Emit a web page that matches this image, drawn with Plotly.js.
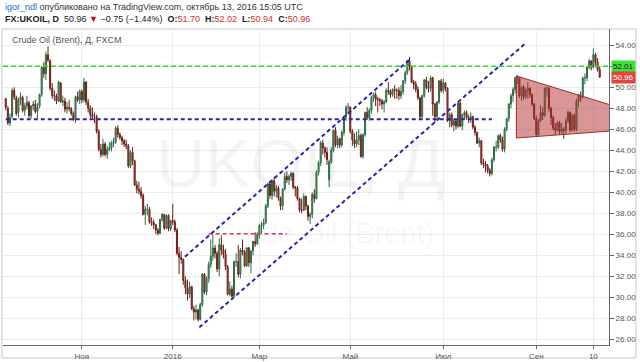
<!DOCTYPE html>
<html>
<head>
<meta charset="utf-8">
<script src="https://cdn.plot.ly/plotly-3.0.1.min.js"></script>
<style>
html,body{margin:0;padding:0;background:#fff;}
#chart{width:640px;height:362px;}
</style>
</head>
<body>
<div id="chart"></div>
<script>
// Trading calendar (weekdays, market holidays removed)
const firstDay = '2015-09-11';
const lastDay = '2016-10-13';
const holidays = ['2015-12-25', '2016-01-01', '2016-03-25'];

// Daily OHLC, FX:UKOIL (month by month)
const open = [
  48.9,48.0,46.6,47.2,49.7,49.0,47.6,48.8,49.0,47.8,48.2,48.5,47.3,48.2,
  48.4,47.7,48.2,49.3,51.9,51.3,53.1,52.5,49.9,49.2,49.2,48.7,50.4,48.6,48.7,47.9,48.1,48.0,47.5,46.9,49.1,48.8,
  49.6,48.8,50.5,48.6,48.0,47.4,47.2,47.2,45.8,44.1,43.6,44.6,43.6,44.1,44.2,44.7,44.8,46.1,45.5,45.2,44.9,
  44.6,44.4,42.5,43.8,43.0,40.7,40.3,40.1,39.7,37.9,38.4,38.4,37.2,37.1,36.9,36.4,36.1,37.4,37.9,36.6,37.8,36.5,
  37.3,37.2,36.4,34.2,33.8,33.6,31.6,30.9,30.3,31.0,28.9,28.6,28.8,27.9,29.3,32.2,30.5,31.8,33.1,33.9,
  34.7,34.2,32.7,35.0,34.5,34.1,32.9,30.3,30.8,30.1,33.4,33.4,32.2,34.5,34.3,33.0,34.7,33.3,34.4,35.3,35.1,
  36.0,36.8,36.9,37.1,38.7,40.8,39.7,41.1,40.1,40.4,39.5,38.7,40.3,41.5,41.2,41.5,41.8,40.5,40.4,39.4,38.3,38.3,
  39.6,38.7,37.7,37.9,39.8,39.4,41.9,42.8,44.7,44.2,43.8,41.2,42.9,44.0,45.9,44.5,45.1,44.5,45.7,47.2,48.1,
  48.1,45.8,45.0,44.6,45.0,45.4,43.4,45.5,47.6,47.1,47.8,49.0,49.3,48.9,48.8,48.7,48.4,48.6,49.7,49.6,49.3,49.8,
  49.7,49.7,49.2,49.6,50.6,51.4,52.5,52.0,50.5,50.3,49.8,49.0,47.2,49.2,50.7,50.0,49.9,50.9,48.4,47.2,48.6,50.6,
  49.7,50.4,49.9,46.8,47.4,46.4,46.8,46.3,48.5,46.3,47.4,47.6,47.1,47.1,47.2,46.2,45.7,44.7,44.9,42.8,42.7,
  42.5,42.1,41.8,43.1,44.3,44.3,45.4,45.0,44.1,46.0,47.0,48.4,49.2,49.8,50.9,50.9,49.2,50.0,49.1,49.7,49.9,49.3,48.4,
  47.0,45.5,46.8,47.6,47.3,49.9,49.9,48.0,47.1,46.1,45.9,46.6,45.8,46.0,45.9,46.8,47.6,45.9,47.3,46.0,48.7,49.2,
  49.1,50.9,50.9,51.9,52.5,51.9,53.1,52.4,51.70
];
const high = [
  49.0,48.2,47.5,49.9,50.0,49.2,49.0,49.5,49.2,48.5,49.2,48.7,48.3,48.7,
  48.8,48.5,49.4,52.0,52.4,53.4,53.9,52.7,50.4,49.7,49.4,50.6,50.5,49.2,49.0,48.6,48.8,48.1,47.7,49.2,49.6,49.8,
  49.8,50.9,50.6,48.9,48.3,48.1,47.6,47.4,46.0,44.6,45.1,44.8,44.4,44.8,44.9,45.2,46.3,46.4,45.7,45.4,45.1,
  45.0,44.6,44.0,44.3,43.1,41.1,41.0,40.5,39.9,38.7,38.9,38.6,37.6,37.4,37.0,36.6,37.5,38.0,37.9,37.9,37.9,37.4,
  38.9,37.4,36.6,34.8,34.4,33.7,32.0,31.7,31.5,31.1,29.2,29.3,28.9,29.5,32.3,32.3,32.0,33.4,35.5,36.0,
  35.0,34.4,35.6,35.9,35.0,34.6,33.1,31.5,31.1,33.5,34.2,35.0,34.7,35.5,34.5,34.8,34.8,34.5,35.4,36.2,36.2,
  37.0,37.2,37.5,38.9,40.9,41.0,41.2,41.5,40.7,40.6,39.6,40.4,41.9,42.0,41.7,42.0,41.9,40.6,40.6,39.5,39.4,39.9,
  39.7,38.8,38.1,40.0,40.3,42.1,43.0,44.9,45.0,44.4,44.3,43.1,44.3,46.0,46.2,45.4,45.2,45.9,47.3,48.3,48.5,
  48.2,46.0,45.6,45.8,46.0,45.6,45.6,47.7,48.1,48.0,49.2,49.5,49.6,49.1,49.0,48.9,48.8,49.9,50.5,49.8,49.9,50.2,
  49.9,50.0,50.2,50.7,51.6,52.6,52.9,52.1,50.7,50.6,50.1,49.1,49.3,50.8,51.0,50.6,51.1,51.0,48.5,48.7,50.7,50.8,
  50.8,50.5,50.0,47.6,47.6,47.0,47.0,48.6,48.6,47.5,47.8,47.8,47.4,47.6,47.3,46.4,45.8,45.2,45.0,43.2,43.0,
  42.7,42.3,43.3,44.4,44.9,45.5,45.6,45.3,46.2,47.1,48.5,49.4,50.0,51.0,51.2,50.9,50.1,50.2,49.9,50.5,50.0,49.4,48.5,
  47.3,47.0,48.3,48.1,50.0,50.1,50.0,48.1,47.3,46.6,46.8,46.8,46.6,46.2,47.1,47.8,47.7,47.5,47.5,48.9,49.4,49.6,
  51.0,51.3,52.0,52.7,52.6,53.7,53.3,52.8,52.02
];
const low = [
  47.8,46.4,46.3,47.0,48.8,47.3,47.1,48.3,47.6,47.3,47.9,47.1,47.0,47.8,
  47.5,47.0,48.0,49.1,50.9,50.7,52.4,49.7,48.9,48.7,48.4,48.6,48.5,48.2,47.6,47.5,47.7,47.3,46.8,46.6,48.6,48.4,
  48.5,48.6,48.3,47.6,47.0,47.0,46.6,45.6,43.9,43.3,43.4,43.4,43.2,43.9,43.9,44.3,44.6,45.2,45.0,44.5,44.3,
  44.1,42.3,42.3,42.6,40.6,39.9,39.8,39.4,37.8,36.9,37.8,37.0,36.8,36.5,36.0,35.9,36.0,37.2,36.4,36.5,36.3,36.3,
  36.9,36.2,34.0,32.2,33.2,31.2,30.3,29.7,29.9,28.8,27.8,27.9,27.7,27.8,29.1,30.3,30.2,31.4,32.8,33.5,
  33.7,32.4,32.0,34.0,33.7,32.6,30.2,30.1,30.0,30.0,32.9,31.9,31.8,34.0,32.9,32.9,32.9,32.3,34.0,34.8,35.0,
  35.6,36.1,36.5,37.0,38.5,39.4,39.3,39.6,39.5,39.2,38.3,38.3,40.2,40.9,40.7,41.1,40.3,39.6,39.2,38.1,38.0,38.2,
  38.3,37.3,37.0,37.5,39.0,39.3,41.6,42.5,43.6,43.3,42.6,40.5,42.7,43.8,44.3,44.2,44.2,44.3,45.4,46.8,47.4,
  45.6,44.4,44.2,44.3,44.5,43.3,43.2,45.3,46.9,46.8,47.5,48.6,48.2,47.6,48.2,47.9,47.6,48.5,49.3,49.0,49.1,48.9,
  48.9,48.8,48.9,49.3,50.3,51.2,51.6,50.4,49.8,49.5,48.8,46.9,47.0,49.0,49.8,49.5,49.6,47.3,46.6,47.0,48.4,49.5,
  49.4,49.6,46.7,46.2,46.2,45.8,46.0,46.1,46.2,45.9,46.9,46.9,46.6,46.6,46.0,45.4,44.6,44.3,42.6,42.3,41.9,
  41.8,41.5,41.6,42.9,43.9,44.1,44.7,43.9,43.8,45.8,46.7,48.0,48.6,49.4,50.3,49.0,48.7,48.8,48.9,48.9,49.0,48.2,46.9,
  45.3,45.4,46.7,46.9,47.2,49.1,47.7,46.4,45.9,45.5,45.8,45.5,45.5,45.1,45.6,46.6,45.8,45.8,45.8,45.8,48.1,48.6,
  48.9,50.3,50.6,51.7,51.6,51.8,51.9,51.5,50.94
];
const close = [
  48.1,46.6,47.1,49.7,49.1,47.5,48.8,49.1,47.8,48.2,48.6,47.3,48.2,48.4,
  47.7,48.1,49.3,51.9,51.3,53.1,52.6,49.9,49.2,49.2,48.7,50.5,48.6,48.7,47.9,48.1,48.0,47.5,46.9,49.1,48.8,49.6,
  48.8,50.5,48.6,48.0,47.4,47.2,47.2,45.8,44.1,43.6,44.6,43.6,44.1,44.2,44.7,44.8,46.1,45.5,45.2,44.9,44.6,
  44.4,42.5,43.8,43.0,40.7,40.3,40.1,39.7,37.9,38.4,38.4,37.2,37.1,36.9,36.4,36.1,37.4,37.9,36.6,37.8,36.5,37.3,
  37.2,36.4,34.2,33.8,33.6,31.6,30.9,30.3,31.0,28.9,28.6,28.8,27.9,29.3,32.2,30.5,31.8,33.1,33.9,34.7,
  34.2,32.7,35.0,34.5,34.1,32.9,30.3,30.8,30.1,33.4,33.4,32.2,34.5,34.3,33.0,34.7,33.3,34.4,35.3,35.1,36.0,
  36.8,36.9,37.1,38.7,40.8,39.7,41.1,40.1,40.4,39.5,38.7,40.3,41.5,41.2,41.5,41.8,40.5,40.4,39.4,38.3,38.3,39.6,
  38.7,37.7,37.9,39.8,39.4,41.9,42.8,44.7,44.2,43.8,43.1,42.9,44.0,45.9,44.5,45.1,44.5,45.7,47.2,48.1,48.1,
  45.8,45.0,44.6,45.0,45.4,43.4,45.5,47.6,47.1,47.8,49.0,49.3,48.9,48.8,48.7,48.4,48.6,49.7,49.6,49.3,49.8,49.7,
  49.7,49.2,49.6,50.6,51.4,52.5,52.0,50.5,50.3,49.8,49.0,47.2,49.2,50.7,50.0,49.9,50.9,48.4,47.2,48.6,50.6,49.7,
  50.4,49.9,46.8,47.4,46.4,46.8,46.3,48.5,46.3,47.4,47.6,47.1,47.1,47.2,46.2,45.7,44.7,44.9,42.8,42.7,42.5,
  42.1,41.8,43.1,44.3,44.3,45.4,45.0,44.1,46.0,47.0,48.4,49.2,49.8,50.9,50.9,49.2,50.0,49.1,49.7,49.9,49.3,48.4,47.0,
  45.5,46.8,47.6,47.3,49.9,49.9,48.0,47.1,46.1,45.9,46.6,45.8,46.0,45.9,46.8,47.6,45.9,47.3,46.0,48.7,49.2,49.1,
  50.9,50.9,51.9,52.5,51.9,53.1,52.4,51.7,50.96
];

// Axis ticks
const xTickDates = ['2015-11-02','2016-01-04','2016-03-01','2016-05-02','2016-07-01','2016-09-01','2016-10-10'];
const xTickLabels = ['Ноя','2016','Мар','Май','Июл','Сен','10'];
const yTicks = [26,28,30,32,34,36,38,40,42,44,46,48,50,52,54];
const yHiddenLabel = 52; // covered by the 52.01 level label

// Chart drawings (date, price)
const greenLevel = 52.01;
const blueLevel = {price: 46.95, end: '2016-08-03'};
const redLevel = {price: 36.06, start: '2016-01-27', end: '2016-03-18'};
const channelLower = [['2016-01-20T14:00', 27.14], ['2016-08-24T12:00', 54.12]];
const channelUpper = [['2016-01-11T19:00', 33.87], ['2016-06-09T05:00', 52.67]];
const triangle = [['2016-08-18T14:00', 51.08], ['2016-08-18T14:00', 45.17], ['2016-11-21T10:00', 46.32]];
const lastPrice = 50.96;

// build date list
function tradingDays(a, b, skip) {
  const out = [];
  const d = new Date(a + 'T00:00:00Z');
  const e = new Date(b + 'T00:00:00Z');
  while (d <= e) {
    const s = d.toISOString().slice(0, 10);
    const wd = d.getUTCDay();
    if (wd !== 0 && wd !== 6 && skip.indexOf(s) < 0) out.push(s);
    d.setUTCDate(d.getUTCDate() + 1);
  }
  return out;
}
const dates = tradingDays(firstDay, lastDay, holidays);
if (dates.length !== close.length) console.error('length mismatch', dates.length, close.length);

const F = '"Liberation Sans", Arial, sans-serif';
const blue = '#2626a8';

const trace = {
  type: 'candlestick',
  x: dates, open: open, high: high, low: low, close: close,
  increasing: {line: {color: '#2f6b45', width: 1}, fillcolor: '#56a678'},
  decreasing: {line: {color: '#6b1f17', width: 1}, fillcolor: '#cf4b3c'},
  whiskerwidth: 0,
  hoverinfo: 'none',
  showlegend: false
};

const triangleTrace = {
  type: 'scatter', mode: 'lines',
  x: triangle.map(p => p[0]).concat([triangle[0][0]]),
  y: triangle.map(p => p[1]).concat([triangle[0][1]]),
  fill: 'toself', fillcolor: 'rgba(180,45,45,0.5)',
  line: {color: '#9e2b2b', width: 1},
  hoverinfo: 'none', showlegend: false
};

const shapes = [
  {type:'line', xref:'paper', x0:0, x1:1, yref:'y', y0:greenLevel, y1:greenLevel,
   line:{color:'#25dd25', width:1.5, dash:'5px,3px'}},
  {type:'line', xref:'x', x0:dates[0], x1:blueLevel.end, yref:'y', y0:blueLevel.price, y1:blueLevel.price,
   line:{color:blue, width:2, dash:'4px,3px'}},
  {type:'line', xref:'x', x0:redLevel.start, x1:redLevel.end, yref:'y', y0:redLevel.price, y1:redLevel.price,
   line:{color:'#d94040', width:1.5, dash:'4px,3px'}},
  {type:'line', xref:'x', yref:'y', x0:channelLower[0][0], y0:channelLower[0][1], x1:channelLower[1][0], y1:channelLower[1][1],
   line:{color:blue, width:2, dash:'4px,3px'}},
  {type:'line', xref:'x', yref:'y', x0:channelUpper[0][0], y0:channelUpper[0][1], x1:channelUpper[1][0], y1:channelUpper[1][1],
   line:{color:blue, width:2, dash:'4px,3px'}},
  // outer frame
  {type:'rect', xref:'paper', yref:'paper', x0:-0.0017, x1:1.0445, y0:-0.041, y1:1.0,
   line:{color:'#c8c8c8', width:1}, fillcolor:'rgba(0,0,0,0)', layer:'below'}
];

const sp = '\u00a0';
const red = '#c8342a';
const annotations = [
  {xref:'paper', yref:'paper', x:0, y:1.069, xanchor:'left', yanchor:'middle', showarrow:false,
   text:'<span style="color:#2a6fc9">igor_ndl</span> опубликовано на TradingView.com, октябрь 13, 2016 15:05 UTC',
   font:{family:F, size:9, color:'#333'}},
  {xref:'paper', yref:'paper', x:0, y:1.031, xanchor:'left', yanchor:'middle', showarrow:false,
   text:'<b>FX:UKOIL, D</b>' + sp + ' 50.96 <span style="color:#d0021b">▼</span> −0.75 (−1.44%)' + sp +
        ' <b>O:</b><span style="color:' + red + '">51.70</span>' + sp + ' <b>H:</b><span style="color:' + red + '">52.02</span>' + sp +
        ' <b>L:</b><span style="color:' + red + '">50.94</span>' + sp + ' <b>C:</b><span style="color:' + red + '">50.96</span>',
   font:{family:F, size:9, color:'#222'}},
  {xref:'paper', yref:'paper', x:0.0115, y:0.965, xanchor:'left', yanchor:'middle', showarrow:false,
   text:'Crude Oil (Brent), Д, FXCM', font:{family:F, size:9, color:'#555'}},
  // watermark
  {xref:'paper', yref:'paper', x:0.49, y:0.575, xanchor:'center', yanchor:'middle', showarrow:false,
   text:'UKOIL, Д', font:{family:F, size:68, color:'rgba(0,0,0,0.045)'}},
  {xref:'paper', yref:'paper', x:0.53, y:0.355, xanchor:'center', yanchor:'middle', showarrow:false,
   text:'Crude Oil (Brent)', font:{family:F, size:29, color:'rgba(0,0,0,0.045)'}},
  // price labels
  {xref:'paper', yref:'y', x:1.003, y:greenLevel, xanchor:'left', yanchor:'middle', showarrow:false,
   text:'52.01', bgcolor:'#3ee03e', borderpad:1, font:{family:F, size:8, color:'#1a1a1a'}},
  {xref:'paper', yref:'y', x:1.003, y:lastPrice, xanchor:'left', yanchor:'middle', showarrow:false,
   text:'50.96', bgcolor:'#e0463c', borderpad:1, font:{family:F, size:8, color:'#fff'}}
];

const layout = {
  width: 640, height: 362,
  margin: {l:3, r:31, t:29, b:17, pad:0},
  paper_bgcolor: '#fff', plot_bgcolor: '#fff',
  showlegend: false,
  dragmode: false,
  xaxis: {
    type: 'date',
    range: ['2015-09-09 16:48', '2016-10-19 09:36'],
    rangebreaks: [{bounds:['sat','mon']}, {values: holidays}],
    rangeslider: {visible: false},
    tickmode: 'array', tickvals: xTickDates, ticktext: xTickLabels,
    ticks: 'outside', ticklen: 3, tickcolor: '#666',
    showgrid: true, gridcolor: '#ececec', gridwidth: 1,
    showline: true, linecolor: '#666', linewidth: 1,
    zeroline: false,
    tickfont: {family:F, size:8, color:'#555'}
  },
  yaxis: {
    side: 'right',
    range: [25.46, 55.55],
    tickmode: 'array', tickvals: yTicks,
    ticktext: yTicks.map(v => v === yHiddenLabel ? '' : v.toFixed(2)),
    ticks: 'outside', ticklen: 4, tickcolor: '#666',
    showgrid: true, gridcolor: '#ececec', gridwidth: 1,
    showline: true, linecolor: '#666', linewidth: 1,
    zeroline: false,
    tickfont: {family:F, size:8, color:'#555'}
  },
  shapes: shapes,
  annotations: annotations
};

Plotly.newPlot('chart', [trace, triangleTrace], layout, {staticPlot: true, displayModeBar: false});
</script>
</body>
</html>
